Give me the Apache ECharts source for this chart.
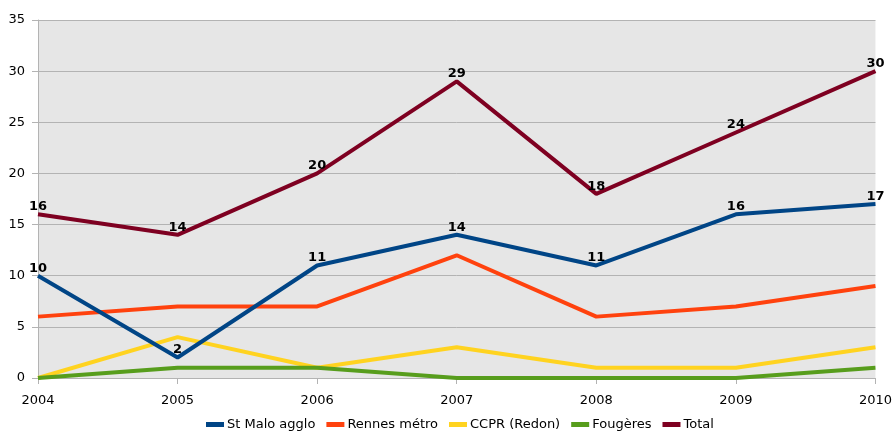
<!DOCTYPE html>
<html><head><meta charset="utf-8">
<script src="https://cdn.jsdelivr.net/npm/echarts@6/dist/echarts.min.js"></script>
<style>html,body{margin:0;padding:0;background:#fff}#c{width:895px;height:437px}</style>
</head><body><div id="c"></div>
<script>
const categories = ['2004','2005','2006','2007','2008','2009','2010'];
const stMalo = [10,2,11,14,11,16,17];
const rennes = [6,7,7,12,6,7,9];
const ccpr = [0,4,1,3,1,1,3];
const fougeres = [0,1,1,0,0,0,1];
const total = [16,14,20,29,18,24,30];
const seriesNames = ['St Malo agglo','Rennes métro','CCPR (Redon)','Fougères','Total'];
const colors = ['#004586','#ff420e','#ffd320','#579d1c','#7e0021'];
const datas = [stMalo, rennes, ccpr, fougeres, total];
const labeled = [true,false,false,false,true];
const chart = echarts.init(document.getElementById('c'));
chart.setOption({
  animation:false,
  textStyle:{fontFamily:'DejaVu Sans, sans-serif'},
  color:colors,
  grid:{left:38,right:18,top:20,bottom:59,show:true,backgroundColor:'#e6e6e6',borderWidth:0},
  legend:{bottom:1,left:201,itemWidth:18,itemHeight:5,itemGap:11,icon:'rect',
    textStyle:{fontSize:13,color:'#000',padding:[0,0,0,-2]},data:seriesNames},
  xAxis:{type:'category',data:categories,boundaryGap:false,
    axisLine:{show:true,lineStyle:{color:'#b3b3b3'}},
    axisTick:{show:true,length:6,lineStyle:{color:'#b3b3b3'}},
    axisLabel:{color:'#000',fontSize:13,margin:16},
    splitLine:{show:false}},
  yAxis:{type:'value',min:0,max:35,interval:5,
    axisLine:{show:true,lineStyle:{color:'#b3b3b3'}},
    axisTick:{show:true,length:6,lineStyle:{color:'#b3b3b3'}},
    axisLabel:{color:'#000',fontSize:13,margin:13},
    splitLine:{show:true,lineStyle:{color:'#b3b3b3'}}},
  series: datas.map((d,i)=>({
    name:seriesNames[i],type:'line',data:d,symbol:'circle',symbolSize:0,showSymbol:true,
    itemStyle:{color:colors[i]},
    lineStyle:{width:4,color:colors[i]},
    label:{show:labeled[i],position:'top',distance:1,color:'#000',fontWeight:'bold',fontSize:13},
    z: i===4?5:(i===0?4:3)
  }))
});
</script></body></html>
